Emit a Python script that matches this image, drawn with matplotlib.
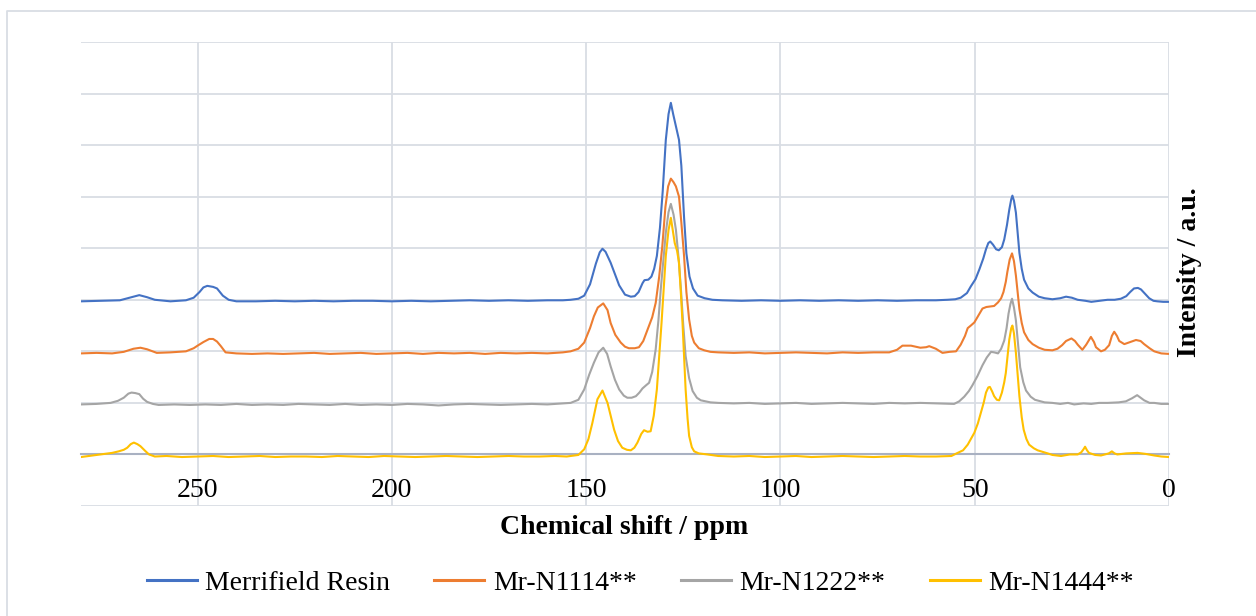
import matplotlib
matplotlib.use('Agg')
import matplotlib.pyplot as plt
from matplotlib.lines import Line2D

# --- spectra (ppm, intensity above own baseline) ---
resin_ppm = [280, 275, 270, 267, 265, 263, 261, 257, 253, 251, 249.5, 248.5, 247.5, 246, 245, 243.5,
             242, 240, 235, 230, 225, 220, 215, 210, 205, 200, 195, 190, 185, 180, 175, 170, 165, 160,
             156, 154, 152, 150.5, 149, 147.5, 146.5, 145.8, 145, 143.7, 142.5, 141.5, 140, 138.5,
             137.5, 136.5, 135.5, 135, 134, 133.2, 132.5, 131.8, 131, 130.3, 129.5, 128.8, 128.2,
             127.6, 126.9, 126.1, 125.5, 124.8, 124.2, 123.4, 122.5, 121.3, 119.5, 117.5, 115, 110,
             105, 100, 95, 90, 85, 80, 75, 70, 65, 60, 57, 55, 53.6, 52, 51, 49.8, 48.8, 47.8, 47.1,
             46.5, 46, 45.3, 44.5, 43.8, 43, 42.4, 41.7, 41.1, 40.6, 40.3, 39.9, 39.4, 38.9, 38.5,
             37.9, 37.3, 36.2, 35.1, 33.5, 32, 30, 28, 26.5, 25, 23.5, 21.5, 20, 18, 15.8, 14, 12.4,
             11, 10, 9, 8, 7.2, 6.2, 5.1, 4, 3, 1.5, 0]
resin_int = [-0.03, -0.02, -0.01, 0.05, 0.09, 0.05, 0.0, -0.03, -0.01, 0.04, 0.15, 0.24, 0.27, 0.25,
             0.22, 0.08, 0.0, -0.03, -0.03, -0.02, -0.03, -0.02, -0.03, -0.02, -0.02, -0.03, -0.02,
             -0.03, -0.02, -0.01, -0.02, -0.01, -0.02, -0.01, -0.01, 0.0, 0.02, 0.08, 0.3, 0.7, 0.92,
             0.99, 0.93, 0.72, 0.48, 0.28, 0.1, 0.06, 0.07, 0.15, 0.32, 0.38, 0.39, 0.45, 0.6, 0.85,
             1.4, 2.1, 3.1, 3.6, 3.82, 3.6, 3.37, 3.1, 2.6, 1.6, 0.9, 0.45, 0.22, 0.08, 0.03, 0.0,
             -0.01, -0.02, -0.01, -0.02, -0.01, -0.02, -0.01, -0.02, -0.01, -0.02, -0.01, -0.01, 0.0,
             0.01, 0.04, 0.13, 0.26, 0.4, 0.59, 0.8, 0.98, 1.1, 1.13, 1.07, 0.98, 0.96, 1.02, 1.17,
             1.45, 1.75, 1.95, 2.02, 1.92, 1.69, 1.25, 0.91, 0.6, 0.39, 0.22, 0.14, 0.06, 0.03, 0.01,
             0.03, 0.06, 0.04, 0.0, -0.02, -0.04, -0.02, 0.0, 0.0, 0.02, 0.07, 0.15, 0.22, 0.23, 0.2,
             0.12, 0.03, -0.02, -0.03, -0.04, -0.04]

n1114_ppm = [280, 276, 272, 269, 266.5, 264.7, 263, 260.5, 257, 253, 251, 250, 248.5, 247, 246, 245,
             244, 242.8, 240, 236, 232, 228, 224, 220, 216, 212, 208, 204, 200, 196, 192, 188, 184,
             180, 176, 172, 168, 164, 160, 156, 154, 152, 150.5, 149, 148, 147, 145.6, 144.5, 143.7,
             142.5, 141.1, 140, 139, 137.5, 136.4, 135.3, 134.2, 133, 132.1, 131.2, 130.4, 129.6,
             128.9, 128.2, 127.5, 126.9, 126.1, 125.5, 124.8, 124.2, 123.5, 122.8, 122.2, 121, 119.6,
             118, 116, 112, 108, 104, 100, 96, 92, 88, 84, 80, 76, 72, 70, 68.6, 66.4, 64, 62.5, 61.7,
             60, 58.3, 56.5, 54.8, 53.6, 52.5, 51.8, 51, 50.1, 49, 48, 47, 46, 45, 44, 43.2, 42.6, 42,
             41.6, 41, 40.4, 39.9, 39.4, 38.9, 38.5, 37.9, 37.3, 36.2, 35.1, 33.5, 32, 30, 28.7, 27.5,
             26.5, 25.1, 24.2, 23.5, 22.3, 21.3, 20.1, 19.3, 18.8, 17.5, 16.5, 15.4, 14.7, 14.1, 13.4,
             12.8, 11.5, 10, 8.5, 7.3, 6.4, 5, 3.8, 2, 0]
n1114_int = [-0.04, -0.03, -0.04, -0.01, 0.05, 0.07, 0.04, -0.03, -0.02, 0.0, 0.06, 0.11, 0.18, 0.24,
             0.24, 0.19, 0.1, -0.02, -0.04, -0.05, -0.04, -0.05, -0.04, -0.03, -0.05, -0.04, -0.03,
             -0.05, -0.04, -0.03, -0.05, -0.03, -0.04, -0.03, -0.05, -0.03, -0.04, -0.03, -0.04,
             -0.02, 0.0, 0.05, 0.17, 0.45, 0.68, 0.85, 0.93, 0.8, 0.55, 0.32, 0.17, 0.09, 0.06, 0.06,
             0.08, 0.2, 0.42, 0.66, 0.94, 1.45, 2.04, 2.8, 3.2, 3.35, 3.28, 3.2, 3.0, 2.5, 1.85, 1.15,
             0.62, 0.3, 0.17, 0.06, 0.02, -0.01, -0.02, -0.03, -0.02, -0.04, -0.03, -0.02, -0.03,
             -0.04, -0.02, -0.03, -0.02, -0.02, 0.03, 0.11, 0.11, 0.07, 0.08, 0.1, 0.05, -0.03, -0.01,
             0.0, 0.13, 0.3, 0.45, 0.5, 0.56, 0.7, 0.83, 0.86, 0.87, 0.88, 0.95, 1.03, 1.15, 1.35,
             1.54, 1.78, 1.9, 1.75, 1.47, 1.1, 0.82, 0.55, 0.37, 0.22, 0.14, 0.07, 0.03, 0.02, 0.05,
             0.12, 0.2, 0.25, 0.2, 0.13, 0.03, 0.13, 0.28, 0.18, 0.08, 0.0, 0.03, 0.12, 0.3, 0.38,
             0.3, 0.2, 0.14, 0.18, 0.22, 0.2, 0.14, 0.06, 0.0, -0.04, -0.05]

n1222_ppm = [280, 276, 272.4, 270.5, 269, 267.8, 267, 266, 265, 264, 263, 261.5, 260, 256, 252, 248,
             244, 240, 236, 232, 228, 224, 220, 216, 212, 208, 204, 200, 196, 192, 188, 184, 180, 176,
             172, 168, 164, 160, 156, 154, 152, 150.5, 149.2, 148, 146.8, 145.6, 144.6, 143.7, 142.6,
             141.5, 140.3, 139.4, 138.3, 137.2, 136.3, 135.5, 134.6, 133.8, 133, 132.1, 131.4, 130.8,
             130.1, 129.5, 128.8, 128.2, 127.5, 126.9, 126.2, 125.6, 125, 124.4, 123.5, 122.6, 121.5,
             120.5, 118, 116, 112, 108, 104, 100, 96, 92, 88, 84, 80, 76, 72, 68, 64, 60, 56.5, 55.3,
             54, 52.7, 51.5, 50.6, 49.3, 48, 46.9, 45.8, 45, 44, 43.2, 42.4, 41.8, 41.3, 40.8, 40.4,
             39.9, 39.4, 38.8, 38.3, 37.5, 36.8, 35.6, 34.5, 32, 30, 28, 26, 24.4, 22, 20, 18, 15.8,
             13, 11.1, 9.5, 8.2, 7.3, 6.4, 5, 3.8, 2, 0]
n1222_int = [-0.03, -0.02, 0.0, 0.04, 0.1, 0.18, 0.2, 0.19, 0.17, 0.08, 0.02, -0.02, -0.04, -0.03,
             -0.04, -0.03, -0.04, -0.02, -0.04, -0.03, -0.04, -0.02, -0.03, -0.04, -0.02, -0.04,
             -0.03, -0.04, -0.02, -0.03, -0.05, -0.03, -0.02, -0.03, -0.04, -0.03, -0.02, -0.03,
             -0.01, 0.0, 0.06, 0.26, 0.55, 0.78, 0.98, 1.07, 0.95, 0.71, 0.45, 0.26, 0.14, 0.1, 0.1,
             0.13, 0.2, 0.28, 0.34, 0.39, 0.6, 1.04, 1.6, 2.2, 2.8, 3.3, 3.7, 3.86, 3.65, 3.36, 2.8,
             2.2, 1.5, 0.91, 0.48, 0.23, 0.1, 0.05, 0.01, 0.0, -0.01, 0.0, -0.02, -0.01, 0.0, -0.02,
             -0.01, 0.0, -0.01, -0.02, 0.0, -0.01, 0.0, -0.01, -0.02, -0.02, 0.03, 0.12, 0.23, 0.34,
             0.52, 0.73, 0.88, 0.99, 0.98, 0.96, 1.05, 1.21, 1.45, 1.73, 1.92, 2.02, 1.85, 1.6, 1.1,
             0.69, 0.4, 0.24, 0.12, 0.06, 0.01, 0.0, -0.02, 0.0, -0.03, -0.01, -0.02, 0.0, 0.0, 0.01,
             0.03, 0.09, 0.15, 0.1, 0.05, 0.0, 0.0, -0.02, -0.02]

n1444_ppm = [280, 278, 275, 272, 270.3, 269, 268.1, 267.2, 266.4, 265.5, 264.7, 263.5, 262.5, 261,
             258, 254, 250, 246, 242, 238, 234, 230, 226, 222, 218, 214, 210, 206, 202, 198, 194, 190,
             186, 182, 178, 174, 170, 166, 162, 158, 155, 152, 150.5, 149.4, 148.4, 147.1, 145.8,
             144.5, 143.6, 142.8, 141.8, 140.7, 139.5, 138.5, 137.6, 136.8, 135.8, 135.1, 134.2,
             133.4, 132.6, 131.8, 131.2, 130.6, 130, 129.5, 128.8, 128.2, 127.7, 127.2, 126.6, 126.1,
             125.6, 125.2, 124.8, 124.4, 123.9, 123.5, 122.8, 122.2, 121, 118.8, 116, 112, 108, 104,
             100, 96, 92, 88, 84, 80, 76, 72, 68, 64, 60, 56, 54.4, 53, 51.8, 50.1, 49.2, 48.4, 47.7,
             47.1, 46.5, 46.1, 45.5, 45, 44.3, 43.7, 43, 42.4, 42, 41.5, 41.1, 40.6, 40.3, 39.9, 39.4,
             38.9, 38.5, 37.9, 37.4, 36.7, 36, 34.8, 33.8, 32.5, 31.2, 30, 27.8, 25.5, 23.5, 22.6, 22,
             21.6, 21.1, 20.6, 19, 17.5, 15.5, 14.7, 14, 13.3, 11, 8.1, 6, 3.8, 2, 0]
n1444_int = [-0.05, -0.03, 0.0, 0.03, 0.06, 0.09, 0.13, 0.2, 0.23, 0.2, 0.16, 0.07, 0.0, -0.04, -0.03,
             -0.05, -0.04, -0.03, -0.05, -0.04, -0.03, -0.05, -0.04, -0.04, -0.05, -0.03, -0.04,
             -0.05, -0.03, -0.04, -0.05, -0.04, -0.03, -0.04, -0.05, -0.04, -0.03, -0.04, -0.04,
             -0.03, -0.04, -0.01, 0.1, 0.3, 0.61, 1.07, 1.24, 1.0, 0.72, 0.48, 0.26, 0.13, 0.09, 0.08,
             0.13, 0.23, 0.4, 0.47, 0.44, 0.45, 0.75, 1.26, 1.9, 2.55, 3.25, 3.85, 4.35, 4.59, 4.35,
             4.1, 3.95, 3.72, 3.1, 2.55, 1.9, 1.26, 0.7, 0.36, 0.14, 0.06, 0.02, 0.0, -0.03, -0.04,
             -0.03, -0.05, -0.04, -0.03, -0.05, -0.04, -0.03, -0.04, -0.05, -0.04, -0.03, -0.04,
             -0.04, -0.03, 0.03, 0.08, 0.19, 0.42, 0.6, 0.81, 1.0, 1.2, 1.3, 1.31, 1.22, 1.13, 1.06,
             1.05, 1.2, 1.4, 1.58, 1.95, 2.23, 2.45, 2.5, 2.35, 1.97, 1.5, 1.13, 0.72, 0.48, 0.3,
             0.19, 0.12, 0.08, 0.05, 0.02, -0.01, -0.03, 0.0, 0.0, 0.04, 0.1, 0.15, 0.08, 0.03, -0.01,
             -0.02, 0.02, 0.06, 0.02, 0.0, 0.02, 0.03, 0.01, -0.02, -0.04, -0.05]

series_names = ['Merrifield Resin', 'Mr-N1114**', 'Mr-N1222**', 'Mr-N1444**']
series_ppm = [resin_ppm, n1114_ppm, n1222_ppm, n1444_ppm]
series_int = [resin_int, n1114_int, n1222_int, n1444_int]
stack_offsets = [3, 2, 1, 0]
colors = ['#4472C4', '#ED7D31', '#A5A5A5', '#FFC000']
x_ticks = [250, 200, 150, 100, 50, 0]

plt.rcParams['font.family'] = ['Liberation Serif', 'DejaVu Serif']

W, H = 1256, 616
fig = plt.figure(figsize=(W / 100, H / 100), dpi=100)
ax = fig.add_axes([81 / W, 1 - 506 / H, (1169 - 81) / W, (506 - 42) / H])

for ppm, vals, off, col, name in zip(series_ppm, series_int, stack_offsets, colors, series_names):
    ax.plot(ppm, [v + off for v in vals], color=col, lw=1.5, label=name, zorder=3,
            solid_joinstyle='round')

grid_col = '#D9DDE4'
ax.set_xlim(280, 0)
ax.set_ylim(-1, 8)
ax.set_xticks(x_ticks)
ax.set_xticklabels([str(t) for t in x_ticks])
ax.set_yticks(range(-1, 9))
ax.set_yticklabels([])
ax.grid(True, color=grid_col, lw=1.3, zorder=0)
ax.set_axisbelow(True)
for side in ['top', 'left', 'right']:
    ax.spines[side].set_visible(False)
ax.spines['bottom'].set_position(('data', 0))
ax.spines['bottom'].set_color('#A9B1C2')
ax.spines['bottom'].set_linewidth(1.5)
ax.tick_params(axis='both', length=0)
ax.tick_params(axis='x', labelsize=20, pad=17)

fig.text(624 / W, 1 - 527 / H, 'Chemical shift / ppm', fontsize=20, fontweight='bold',
         ha='center', va='center')
fig.text(1190 / W, 1 - 272 / H, 'Intensity / a.u.', fontsize=20, fontweight='bold',
         ha='center', va='center', rotation=90)

handles = [Line2D([0], [0], color=c, lw=2.2) for c in colors]
fig.legend(handles, series_names, loc='center', bbox_to_anchor=(640 / W, 1 - 583 / H), ncol=4,
           frameon=False, fontsize=20, handlelength=1.8, handletextpad=0.3, columnspacing=1.6)

# chart-area border (only top and left edges fall inside the picture)
fig.add_artist(Line2D([7 / W, 7 / W, 1], [0, 1 - 11 / H, 1 - 11 / H], color='#D9DDE4', lw=1.3))

fig.savefig('out.png', dpi=100)
